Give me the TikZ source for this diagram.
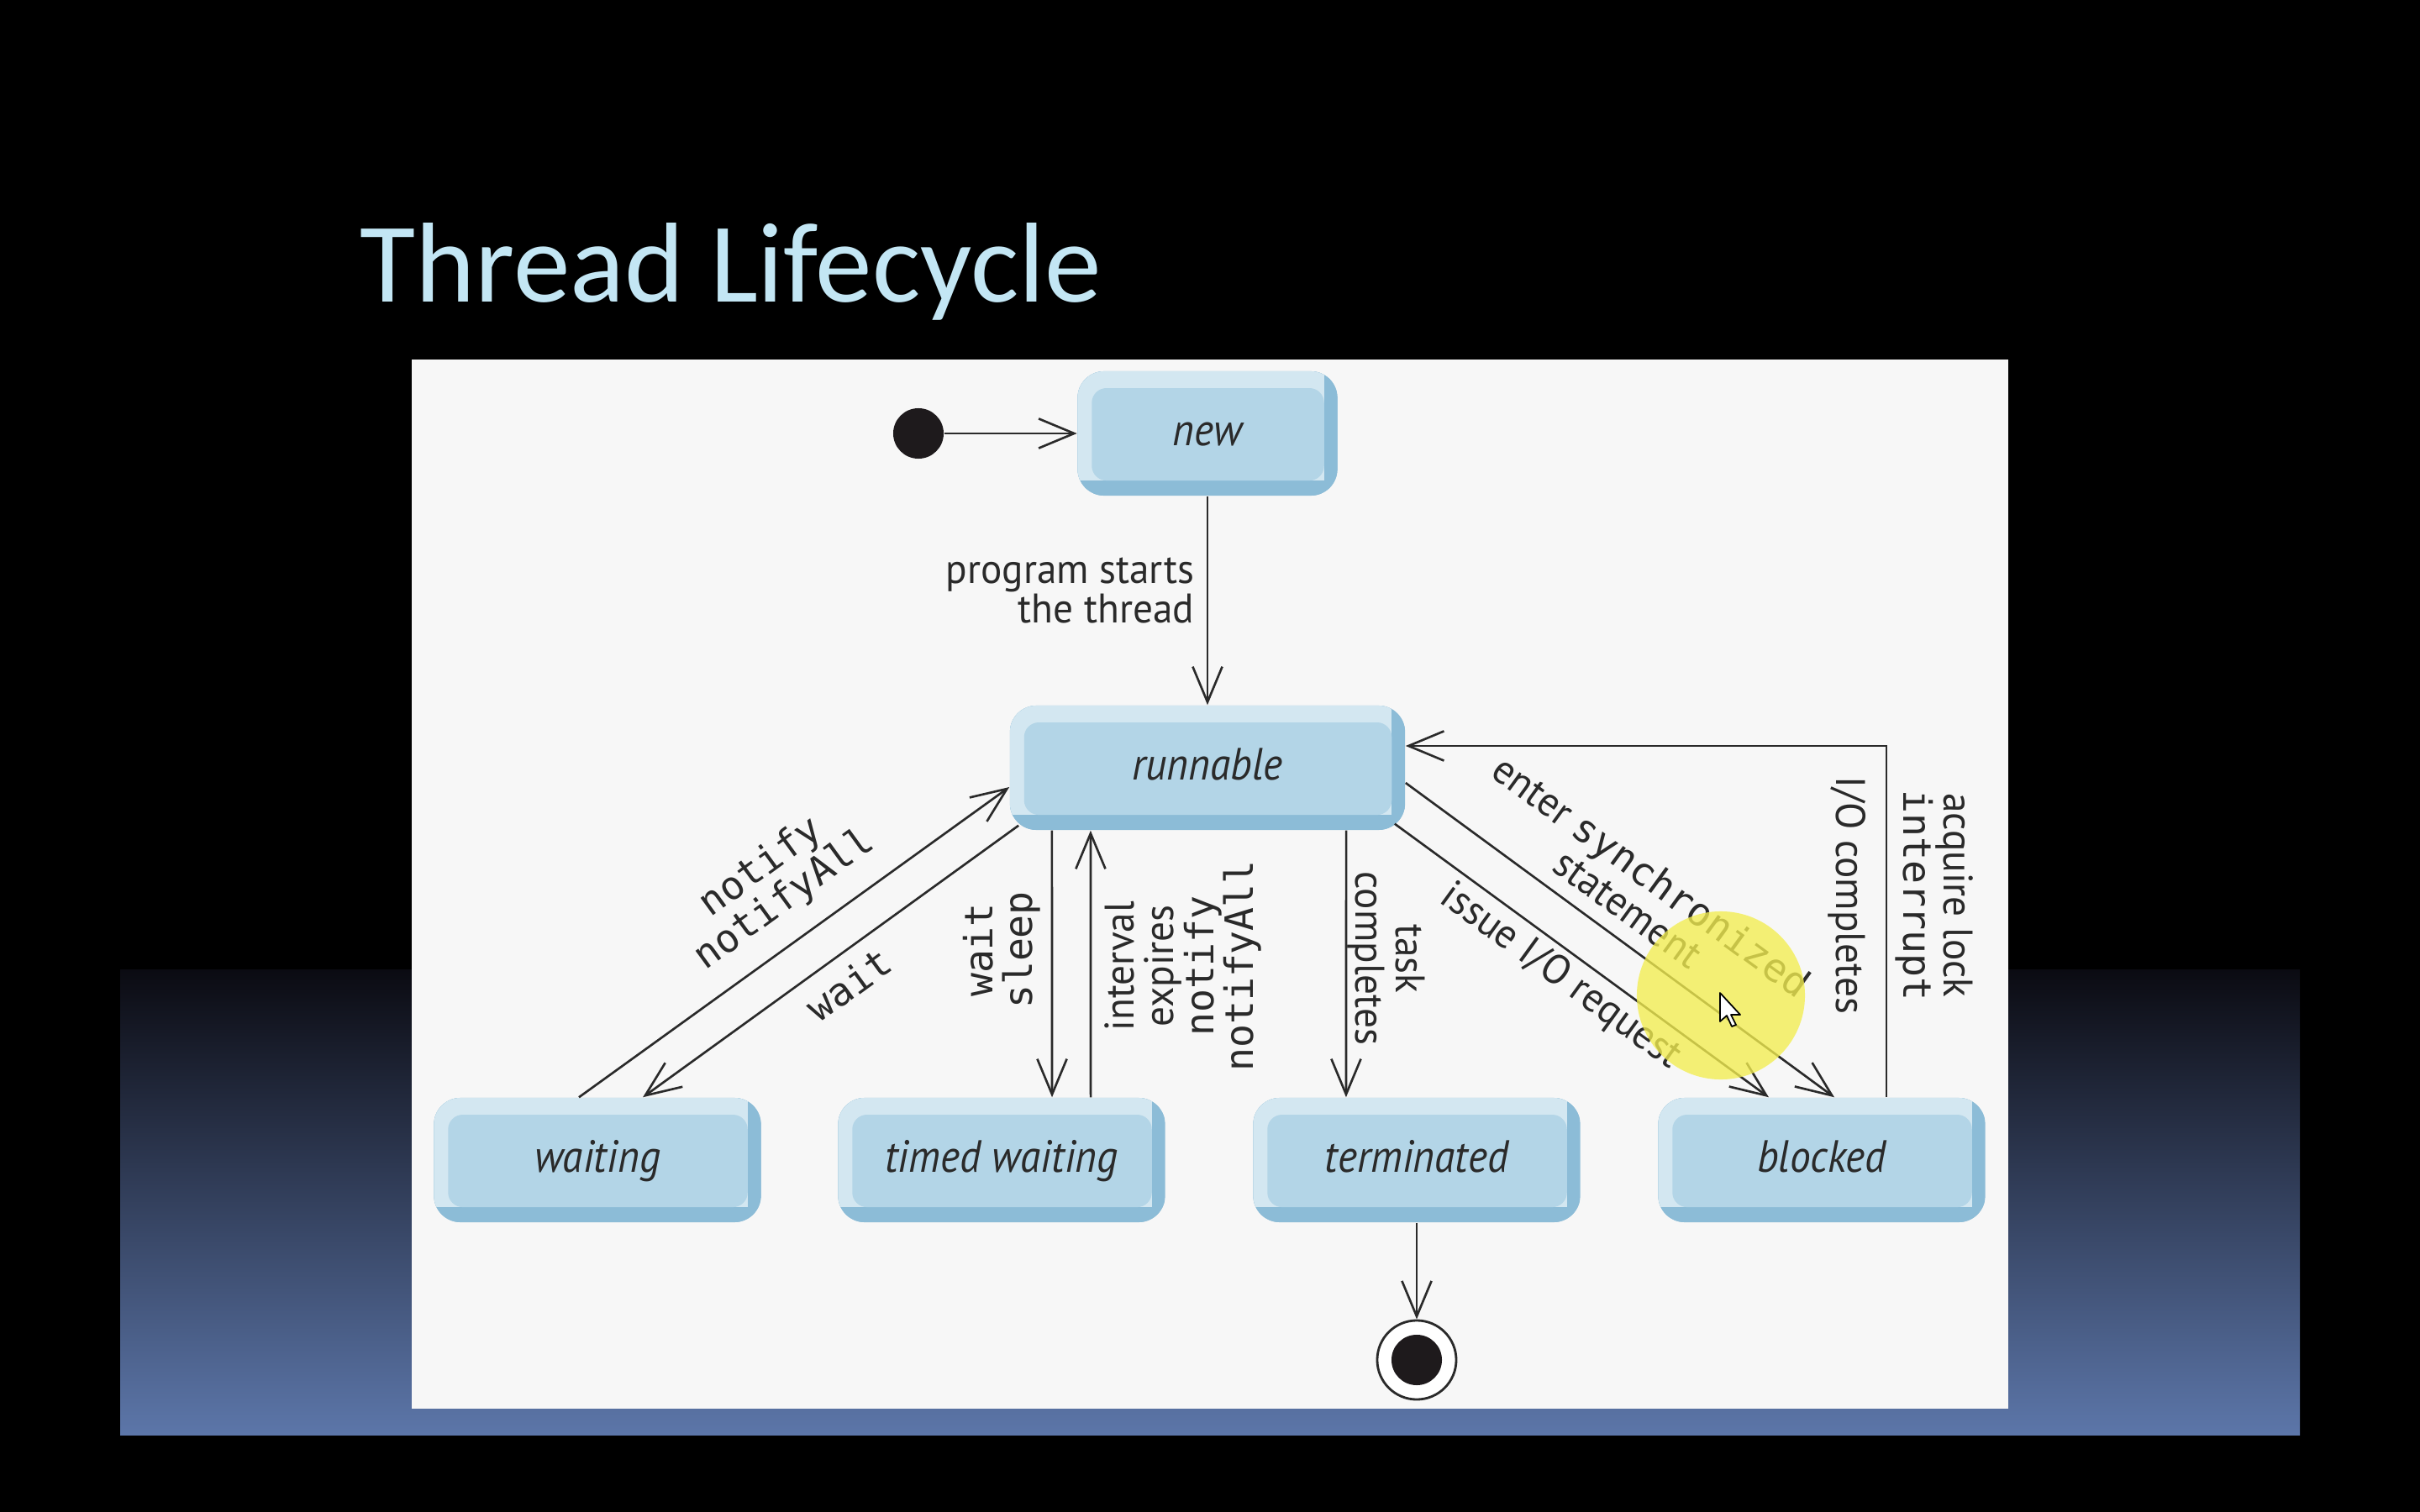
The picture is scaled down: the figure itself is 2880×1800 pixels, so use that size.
\documentclass[tikz,border=0pt]{standalone}
\usepackage{fontspec}
\setmainfont{PT Sans}
\newfontfamily\titlefont{Carlito}
\newfontfamily\statefont[FakeStretch=0.92]{PT Sans}
\newfontfamily\lblfont[FakeStretch=0.96]{PT Sans}
\newfontfamily\codefont{DejaVu Sans Mono}
\usetikzlibrary{arrows.meta}

\definecolor{panel}{HTML}{F7F7F7}
\definecolor{titleblue}{HTML}{C3E6F4}
\definecolor{stateface}{HTML}{B3D5E7}
\definecolor{statelight}{HTML}{D3E7F1}
\definecolor{statedark}{HTML}{8CBCD7}
\definecolor{ink}{HTML}{2A2A2A}
\definecolor{bandtop}{HTML}{0B0B12}
\definecolor{bandbot}{HTML}{5C76A9}
\definecolor{hilite}{HTML}{F3EE50}
\definecolor{dotcol}{HTML}{1E1A1C}

\newcommand\cmono[1]{{\codefont\fontsize{13.2}{13.5}\selectfont #1}}

\tikzset{
  statebox/.style={rectangle, rounded corners=9pt, inner sep=0pt,
    minimum height=1.48cm, fill=statedark, text=ink,
    text height=10.5pt, text depth=2.5pt,
    font=\statefont\itshape\fontsize{15.3}{17}\selectfont,
    path picture={
      \fill[statedark, sharp corners] (path picture bounding box.south west)
        rectangle (path picture bounding box.north east);
      \fill[statelight, sharp corners] ([yshift=5.1pt]path picture bounding box.south west)
        rectangle ([xshift=-4.5pt]path picture bounding box.north east);
      \fill[stateface, rounded corners=5pt]
        ([xshift=4.8pt,yshift=5.1pt]path picture bounding box.south west)
        rectangle ([xshift=-4.5pt,yshift=-5.7pt]path picture bounding box.north east);
    }},
  conn/.style={draw=ink, line width=0.75pt,
    -{Straight Barb[length=12pt,width=10pt]}},
  lbl/.style={font=\lblfont\fontsize{14}{13.5}\selectfont, text=ink,
    inner sep=0pt, align=center},
  code/.style={font=\codefont\fontsize{13.2}{13.5}\selectfont, text=ink,
    inner sep=0pt, align=center},
}

\begin{document}
\begin{tikzpicture}[x=0.01cm, y=-0.01cm]
  % slide background
  \fill[black] (0,0) rectangle (2880,1800);
  \useasboundingbox (0,0) rectangle (2880,1800);
  \shade[top color=bandtop, bottom color=bandbot] (143,1154) rectangle (2737,1708);
  \fill[panel] (490,428) rectangle (2390,1677);

  % title
  \node[anchor=base west, font=\titlefont\fontsize{38.5}{40}\selectfont,
        text=titleblue, inner sep=0pt] (title) at (428,360) {Thread Lifecycle};

  % states
  \node[statebox, minimum width=3.09cm] (new) at (1437,516) {new};
  \node[statebox, minimum width=4.70cm] (runnable) at (1437,914) {runnable};
  \node[statebox, minimum width=3.89cm] (waiting) at (711,1381) {waiting};
  \node[statebox, minimum width=3.89cm] (timed) at (1192,1381) {timed waiting};
  \node[statebox, minimum width=3.89cm] (term) at (1686,1381) {terminated};
  \node[statebox, minimum width=3.89cm] (blocked) at (2168,1381) {blocked};

  % initial and final pseudo-states
  \node[circle, fill=dotcol, minimum size=0.6cm, inner sep=0pt] (start) at (1093,516) {};
  \node[circle, draw=ink, line width=0.8pt, fill=white, minimum size=0.94cm, inner sep=0pt,
        path picture={\fill[dotcol] (path picture bounding box.center) circle (0.3cm);}]
        (final) at (1686,1619) {};

  % transitions
  \draw[conn] (start) -- (new);
  \draw[conn] (new) -- (runnable);
  \draw[conn] ([xshift=-0.22cm]waiting.north) -- ([yshift=-0.23cm]runnable.west);
  \draw[conn] ([xshift=0.11cm,yshift=0.06cm]runnable.south west) -- ([xshift=0.54cm]waiting.north);
  \draw[conn] ([xshift=-1.85cm]runnable.south) -- ([xshift=0.60cm]timed.north);
  \draw[conn] ([xshift=1.06cm]timed.north) -- ([xshift=-1.39cm]runnable.south);
  \draw[conn] ([xshift=1.65cm]runnable.south) -- ([xshift=-0.84cm]term.north);
  \draw[conn] ([yshift=-0.18cm]runnable.east) -- ([xshift=0.15cm]blocked.north);
  \draw[conn] ([xshift=-0.13cm,yshift=0.08cm]runnable.south east) -- ([xshift=-0.63cm]blocked.north);
  \draw[conn] ([xshift=0.77cm]blocked.north) |- ([yshift=0.26cm]runnable.east);
  \draw[conn] (term) -- (final);

  % transition labels
  \node[lbl, anchor=east, align=right] (lprog) at (1422,703) {program starts\\the thread};
  \node[code, rotate=36] (lnfy) at (920,1052) {notify\\notifyAll};
  \node[code, rotate=36] (lwt) at (1010,1172) {wait};
  \node[code, rotate=90] (lws) at (1192,1131) {wait\\sleep};
  \node[lbl, rotate=90] (liv) at (1408,1150) {interval\\expires\\\cmono{notify}\\\cmono{notifyAll}};
  \node[lbl, rotate=-90] (ltc) at (1650,1141) {task\\completes};
  \node[lbl, rotate=-36] (lsync) at (1952,1062) {enter \cmono{synchronized}\\statement};
  \node[lbl, rotate=-36] (lio) at (1857,1163) {issue I/O request};
  \node[lbl, rotate=-90] (lioc) at (2198,1066) {I/O completes};
  \node[lbl, rotate=-90] (lacq) at (2302,1066) {acquire lock\\\cmono{interrupt}};

  % pointer highlight and mouse cursor
  \fill[hilite, opacity=0.78] (2048,1185) circle (1cm);
  \draw[fill=white, draw=black, line width=0.5pt, line join=round, shift={(2047,1182)}]
    (0,0) -- (0,34) -- (8,27) -- (14,40) -- (19,38) -- (13,26) -- (24,26) -- cycle;
\end{tikzpicture}
\end{document}
